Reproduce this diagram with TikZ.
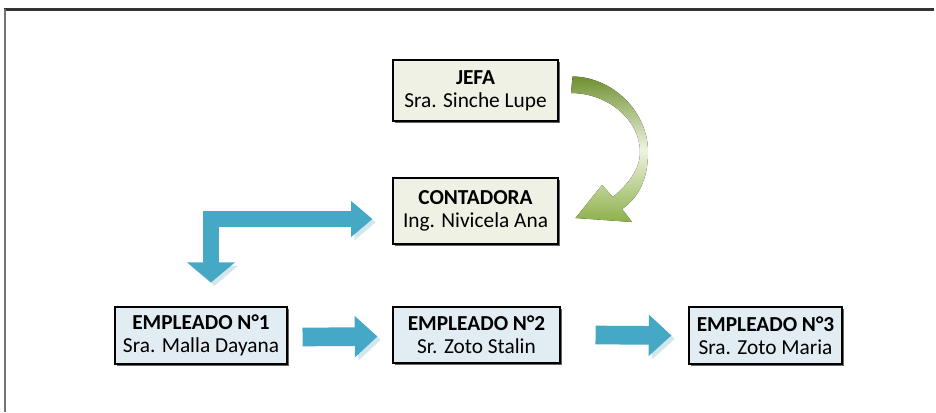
\documentclass[tikz,border=0pt]{standalone}
\usepackage{fontspec}
\setmainfont{Carlito}
\usetikzlibrary{arrows.meta,calc,shadows}
\definecolor{blk}{HTML}{45A9C6}
\definecolor{blkshadow}{HTML}{D3E6EC}
\definecolor{gfill}{HTML}{EEF1E3}
\definecolor{bfill}{HTML}{E2EDF3}
\definecolor{grnA}{HTML}{6F8F30}
\definecolor{grnM}{HTML}{EEF4E0}
\definecolor{grnB}{HTML}{8DB04A}
\begin{document}
\begin{tikzpicture}[x=0.75pt,y=-0.75pt,
  box/.style={draw=black, line width=0.8pt, align=center, inner sep=0pt,
    font=\fontsize{16}{17.5}\selectfont,
    drop shadow={shadow xshift=1.3pt, shadow yshift=-1.3pt, fill=black!60, opacity=1}},
  gbox/.style={box, fill=gfill},
  bbox/.style={box, fill=bfill},
  blockarrow/.style={line width=14pt, draw=blk,
    preaction={draw=blkshadow, transform canvas={shift={(2.5pt,-2.5pt)}}}},
  tipR/.style={-{Triangle[length=17pt,width=30pt]}},
  tipLR/.style={{Triangle[length=15pt,width=35pt]}-{Triangle[length=16pt,width=26pt]}}
]
\useasboundingbox (0,0) rectangle (936,412);
% frame
\draw[line width=2.2pt, black!80] (4,9.5) -- (934,9.5);
\draw[line width=1.2pt, black!55] (5,9) -- (5,412);

% nodes
\node[gbox, minimum width=123.75pt, minimum height=45.75pt] (jefa) at (475.5,90.5) {\textbf{JEFA}\\Sra. Sinche Lupe};
\node[gbox, minimum width=123.75pt, minimum height=49.5pt] (cont) at (475.5,211) {\textbf{CONTADORA}\\Ing. Nivicela Ana};
\node[bbox, minimum width=129pt, minimum height=42.75pt] (e1) at (201,335.5) {\textbf{EMPLEADO N°1}\\Sra. Malla Dayana};
\node[bbox, minimum width=125.25pt, minimum height=42pt] (e2) at (476.5,335) {\textbf{EMPLEADO N°2}\\Sr. Zoto Stalin};
\node[bbox, minimum width=114.75pt, minimum height=42.75pt] (e3) at (765.5,335.5) {\textbf{EMPLEADO N°3}\\Sra. Zoto Maria};

% blue arrows
\draw[blockarrow, tipR] ($(e1.east)+(15,1.5)$) -- ($(e2.west)+(-15,1.5)$);
\draw[blockarrow, tipR] ($(e2.east)+(35,0)$) -- ($(e3.west)+(-17,0)$);
\draw[blockarrow, tipLR, line width=12.5pt, line join=miter]
  ($(e1.north)+(10,-24)$) |- ($(cont.west)+(-20,8)$);

% green curved arrow
\fill[top color=grnA, bottom color=grnB, middle color=grnM]
  ($(jefa.east)+(14,-14)$) .. controls (612,77) and (648,111) .. (648,152)
  .. controls (648,180) and (638,198) .. (622,209)
  -- (632,222) -- ($(cont.east)+(17,7)$) -- (602,185) -- (613,197)
  .. controls (628,184) and (640,170) .. (640,152)
  .. controls (640,120) and (608,93) .. (571,93) -- cycle;
\end{tikzpicture}
\end{document}
